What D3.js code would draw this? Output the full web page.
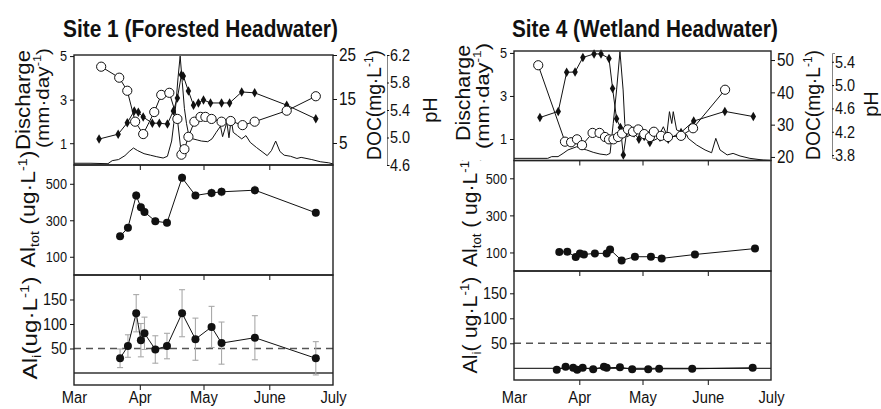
<!DOCTYPE html>
<html>
<head>
<meta charset="utf-8">
<script src="https://cdn.jsdelivr.net/npm/d3@7"></script>
<style>
  body { margin: 0; background: #fff; }
  svg { font-family: "Liberation Sans", Arial, sans-serif; }
</style>
</head>
<body>
<svg id="chart" width="881" height="409"></svg>
<script>
// All sample times are day numbers counted from 1 March.
const monthDays = [0, 31, 61, 92, 122];
const monthLabels = ["Mar", "Apr", "May", "June", "July"];

const dischargeTicks = [1, 3, 5];
const alTotTicks = [100, 300, 500];
const alITicks = [50, 100, 150];
const alIGuide = 50;

// ---- Site 1 (Forested Headwater) ----
const s1QDay = [0, 8, 16, 18, 21, 24, 26, 28, 30, 33, 36, 39, 42, 44, 46, 47, 48, 49, 50, 51, 52, 53, 54, 56, 58, 60, 63, 65, 67, 69, 70, 72, 73, 74, 75, 77, 79, 81, 83, 86, 89, 91, 93, 95, 97, 99, 102, 105, 107, 112, 116, 120, 122];
const s1QVal = [0.08, 0.08, 0.06, 0.2, 0.25, 0.43, 0.62, 0.78, 0.66, 0.52, 0.45, 0.38, 0.32, 0.4, 1.1, 1.9, 2.8, 4.0, 5.0, 3.8, 2.6, 1.9, 1.4, 1.2, 1.15, 1.1, 1.07, 1.2, 1.5, 1.78, 1.3, 1.96, 1.25, 2.1, 1.5, 1.35, 1.2, 1.35, 1.04, 0.8, 0.58, 0.43, 0.66, 1.1, 0.62, 0.45, 0.4, 0.3, 0.35, 0.25, 0.15, 0.1, 0.05];

const s1PhDay = [12.8, 21.3, 25.1, 28.8, 32.6, 37.8, 41.1, 44.9, 48.7, 50.6, 52.0, 53.9, 56.7, 59.6, 61.9, 64.8, 69.5, 73.8, 79.4, 85.1, 100.2, 113.9];
const s1Ph = [6.03, 5.87, 5.68, 5.23, 5.05, 5.37, 5.62, 5.65, 5.27, 4.75, 4.83, 5.01, 5.23, 5.30, 5.30, 5.27, 5.23, 5.24, 5.18, 5.23, 5.39, 5.60];

const s1DocDay = [11.8, 20.8, 25.1, 28.4, 30.3, 32.6, 36.9, 40.2, 44.0, 46.8, 48.7, 50.6, 51.5, 53.9, 56.3, 58.6, 61.0, 64.3, 69.5, 73.3, 79.0, 85.1, 100.2, 113.9];
const s1Doc = [5.9, 7.0, 9.6, 12.3, 12.0, 10.9, 9.5, 9.5, 9.3, 12.3, 15.2, 20.5, 20.2, 16.8, 13.6, 14.1, 14.8, 14.1, 14.1, 14.1, 16.6, 16.4, 13.6, 10.5];

const s1AlDay = [21.7, 25.4, 29.3, 31.5, 33.2, 38.3, 43.8, 50.9, 57.2, 64.8, 69.5, 85.2, 113.9];
const s1AlTot = [212, 259, 436, 371, 346, 295, 286, 533, 436, 450, 456, 465, 341];
const s1AlTotErr = [20, 20, 25, 25, 20, 20, 20, 25, 20, 25, 25, 25, 20];
const s1AlI = [30, 55, 122, 67, 81, 48, 55, 122, 69, 94, 61, 72, 30];
const s1AlIErr = [19, 23, 38, 34, 33, 28, 26, 48, 43, 42, 43, 45, 34];

const s1DocTicks = [5, 15, 25];
const s1PhTicks = [4.6, 5.0, 5.4, 5.8, 6.2];

// ---- Site 4 (Wetland Headwater) ----
const s4QDay = [0, 16, 17.9, 20.9, 23.3, 25.6, 29.8, 31.3, 34.5, 37.6, 40.8, 44, 45.6, 47.1, 48.7, 50.3, 51.8, 52.6, 53.7, 56.5, 59.8, 63, 66.1, 68.5, 70.9, 72.5, 73.8, 74.9, 75.6, 77.2, 78.8, 82, 82.7, 86.7, 90.7, 93.8, 95.8, 97.8, 101.2, 104, 107.3, 112, 118.3, 122];
const s4QVal = [0.1, 0.1, 0.18, 0.18, 0.33, 0.49, 0.64, 0.57, 0.49, 0.38, 0.3, 0.26, 0.33, 1.72, 3.28, 5.06, 3.28, 1.72, 1.1, 1.27, 1.42, 1.26, 1.5, 1.1, 1.57, 1.19, 2.27, 1.72, 2.27, 1.42, 1.35, 1.19, 1.03, 0.72, 0.49, 0.36, 1.03, 0.49, 0.26, 0.33, 0.21, 0.1, 0.02, 0.0];

const s4PhDay = [11.5, 24.2, 27.1, 29.9, 32.3, 37.3, 40.6, 43.2, 45.1, 47.2, 49.4, 51.3, 54.1, 56.5, 59.0, 61.8, 64.5, 66.4, 69.8, 73.1, 79.3, 85.0, 100.2];
const s4Ph = [5.34, 4.03, 4.02, 4.07, 3.97, 4.18, 4.18, 4.11, 4.07, 4.07, 4.11, 4.17, 4.24, 4.20, 4.24, 4.16, 4.11, 4.20, 4.13, 4.11, 4.13, 4.26, 4.92];

const s4DocDay = [12.3, 21.0, 25.0, 29.0, 32.7, 38.0, 41.3, 45.1, 46.8, 48.7, 50.5, 51.9, 53.6, 57.0, 59.3, 61.8, 64.5, 69.3, 73.2, 79.3, 85.3, 100.1, 113.6];
const s4Doc = [32.2, 34.1, 46.2, 46.3, 50.8, 51.9, 51.9, 50.5, 41.2, 31.8, 29.1, 20.6, 28.2, 27.4, 25.5, 26.3, 24.5, 26.1, 25.5, 27.6, 31.1, 34.1, 32.5];

const s4AlTotDay = [21.5, 25.3, 29.3, 31.3, 33.2, 38.4, 44.0, 45.6, 51.1, 57.4, 65.0, 70.1, 85.9, 114.4];
const s4AlTot = [102, 104, 75, 95, 89, 95, 95, 116, 57, 77, 77, 68, 89, 121];
const s4AlTotErr = [10, 10, 10, 10, 10, 10, 10, 10, 10, 10, 10, 10, 10, 12];
const s4AlIDay = [20.3, 24.5, 28.1, 30.0, 32.6, 37.6, 42.7, 44.0, 50.3, 56.1, 63.7, 68.9, 84.6, 113.3];
const s4AlI = [-3, 3, 1, -3, 1, -2, 3, 1, 2, -2, -2, -1, -1, 1];

const s4DocTicks = [20, 30, 40, 50];
const s4PhTicks = [3.8, 4.2, 4.6, 5.0, 5.4];

const svg = d3.select("#chart");
const INK = "#111";
const ERR = "#a9a9a9";

// Mixed text with super/subscripts; optional rotation and stretch to a target length.
function richText(g, parts, o) {
  const size = o.size;
  const t = g.append("text")
    .attr("font-size", size)
    .attr("font-weight", o.weight || "normal")
    .attr("text-anchor", o.anchor || "middle")
    .attr("fill", INK)
    .attr("y", o.centered === false ? 0 : size * 0.35);
  let shift = 0;
  parts.forEach(p => {
    const [s, kind] = typeof p === "string" ? [p, ""] : p;
    const target = kind === "sup" ? -size * 0.38 : kind === "sub" ? size * 0.2 : 0;
    t.append("tspan")
      .attr("font-size", kind ? size * 0.62 : size)
      .attr("dy", target - shift)
      .text(s);
    shift = target;
  });
  let sx = 1;
  if (o.len) sx = o.len / t.node().getBBox().width;
  t.attr("transform", `translate(${o.x},${o.y}) rotate(${o.rot || 0}) scale(${sx},1)`);
  return t;
}

function condense(axisG, f) {
  axisG.selectAll("text").each(function () {
    const w = this.getComputedTextLength();
    d3.select(this).attr("textLength", w * f).attr("lengthAdjust", "spacingAndGlyphs");
  });
}

function styleAxis(a, size) {
  a.selectAll("text").attr("font-size", size).attr("fill", INK).attr("font-family", null);
  a.selectAll("line").attr("stroke", INK);
  a.select(".domain").attr("stroke", INK);
}

function drawSite(c) {
  const g = svg.append("g");
  const [t0, t1, t2, t3] = c.ys;
  const x = d3.scaleLinear().domain([0, 122]).range([c.x0, c.x1]);
  const yQ = d3.scaleLinear().domain(c.qDomain).range([t1, t0]);
  const yDoc = d3.scaleLinear().domain(c.docDomain).range([t1, t0]);
  const yPh = d3.scaleLinear().domain(c.phDomain).range(c.phRange);
  const yTot = d3.scaleLinear().domain(c.totDomain).range([t2, t1]);
  const yAli = d3.scaleLinear().domain(c.aliDomain).range([t3, t2]);

  // Month ticks below each panel
  [t1, t2, t3].forEach(yb => {
    const a = g.append("g").attr("transform", `translate(0,${yb})`)
      .call(d3.axisBottom(x).tickValues(monthDays.slice(1, 4)).tickSize(5).tickFormat(""));
    a.select(".domain").remove();
    styleAxis(a, 16);
  });
  const mAxis = g.append("g").attr("transform", `translate(0,${t3})`)
    .call(d3.axisBottom(x).tickValues(monthDays).tickSize(0).tickPadding(393 - t3 - 1)
      .tickFormat((d, i) => monthLabels[i]));
  mAxis.select(".domain").remove();
  styleAxis(mAxis, 16);
  condense(mAxis, 0.92);

  // --- Top panel: discharge, pH, DOC ---
  g.append("path")
    .datum(d3.zip(c.qDay, c.qVal))
    .attr("d", d3.line().x(d => x(d[0])).y(d => yQ(d[1])))
    .attr("fill", "none").attr("stroke", INK).attr("stroke-width", 1);

  const phPts = d3.zip(c.phDay, c.ph);
  g.append("path").datum(phPts)
    .attr("d", d3.line().x(d => x(d[0])).y(d => yPh(d[1])))
    .attr("fill", "none").attr("stroke", INK).attr("stroke-width", 1);
  const docPts = d3.zip(c.docDay, c.doc);
  g.append("path").datum(docPts)
    .attr("d", d3.line().x(d => x(d[0])).y(d => yDoc(d[1])))
    .attr("fill", "none").attr("stroke", INK).attr("stroke-width", 1);

  g.selectAll(null).data(docPts).join("path")
    .attr("d", d3.symbol(d3.symbolDiamond, 26)())
    .attr("transform", d => `translate(${x(d[0])},${yDoc(d[1])})`)
    .attr("fill", INK);
  g.selectAll(null).data(phPts).join("circle")
    .attr("cx", d => x(d[0])).attr("cy", d => yPh(d[1])).attr("r", 4.6)
    .attr("fill", "#fff").attr("stroke", INK).attr("stroke-width", 1);

  // --- Middle panel: total Al ---
  const totPts = d3.zip(c.totDay, c.tot, c.totErr);
  g.selectAll(null).data(totPts).join("line")
    .attr("x1", d => x(d[0])).attr("x2", d => x(d[0]))
    .attr("y1", d => yTot(d[1] - d[2])).attr("y2", d => yTot(d[1] + d[2]))
    .attr("stroke", ERR).attr("stroke-width", 1.2);
  g.append("path").datum(totPts)
    .attr("d", d3.line().x(d => x(d[0])).y(d => yTot(d[1])))
    .attr("fill", "none").attr("stroke", INK).attr("stroke-width", 1);
  g.selectAll(null).data(totPts).join("circle")
    .attr("cx", d => x(d[0])).attr("cy", d => yTot(d[1])).attr("r", 4)
    .attr("fill", INK);

  // --- Bottom panel: inorganic Al ---
  g.append("line")
    .attr("x1", c.x0).attr("x2", c.x1)
    .attr("y1", yAli(alIGuide)).attr("y2", yAli(alIGuide))
    .attr("stroke", "#555").attr("stroke-width", 1.6).attr("stroke-dasharray", "7,5");
  g.append("line")
    .attr("x1", c.x0).attr("x2", c.x1)
    .attr("y1", yAli(0)).attr("y2", yAli(0))
    .attr("stroke", "#333").attr("stroke-width", 1.3);

  const aliPts = d3.zip(c.aliDay, c.ali, c.aliErr || c.ali.map(() => 0));
  const errPts = aliPts.filter(d => d[2] > 0);
  g.selectAll(null).data(errPts).join("line")
    .attr("x1", d => x(d[0])).attr("x2", d => x(d[0]))
    .attr("y1", d => yAli(d[1] - d[2])).attr("y2", d => yAli(d[1] + d[2]))
    .attr("stroke", ERR).attr("stroke-width", 1.1);
  [-1, 1].forEach(s => {
    g.selectAll(null).data(errPts).join("line")
      .attr("x1", d => x(d[0]) - 3).attr("x2", d => x(d[0]) + 3)
      .attr("y1", d => yAli(d[1] + s * d[2])).attr("y2", d => yAli(d[1] + s * d[2]))
      .attr("stroke", ERR).attr("stroke-width", 1.1);
  });
  g.append("path").datum(aliPts)
    .attr("d", d3.line().x(d => x(d[0])).y(d => yAli(d[1])))
    .attr("fill", "none").attr("stroke", INK).attr("stroke-width", 1);
  g.selectAll(null).data(aliPts).join("circle")
    .attr("cx", d => x(d[0])).attr("cy", d => yAli(d[1])).attr("r", 4)
    .attr("fill", INK);

  // Panel frames
  [[t0, t1], [t1, t2], [t2, t3]].forEach(([a, b]) => {
    g.append("rect").attr("x", c.x0).attr("y", a)
      .attr("width", c.x1 - c.x0).attr("height", b - a)
      .attr("fill", "none").attr("stroke", "#222").attr("stroke-width", 1.4);
  });

  // Left axes
  const leftAxes = [
    [yQ, dischargeTicks, 15],
    [yTot, alTotTicks, 15],
    [yAli, alITicks, 17]
  ];
  leftAxes.forEach(([sc, ticks, fs]) => {
    const a = g.append("g").attr("transform", `translate(${c.x0},0)`)
      .call(d3.axisLeft(sc).tickValues(ticks).tickSize(4).tickPadding(3).tickSizeOuter(0)
        .tickFormat(d3.format("d")));
    a.select(".domain").remove();
    styleAxis(a, fs);
    condense(a, 0.85);
  });

  // Right axes: DOC on the frame, pH as a detached bracket
  const aDoc = g.append("g").attr("transform", `translate(${c.x1},0)`)
    .call(d3.axisRight(yDoc).tickValues(c.docTicks).tickSize(4).tickPadding(2)
      .tickFormat(d3.format("d")));
  aDoc.select(".domain").remove();
  styleAxis(aDoc, 18);
  condense(aDoc, 0.85);

  const aPh = g.append("g").attr("transform", `translate(${c.phX},0)`)
    .call(d3.axisRight(yPh).tickValues(c.phTicks).tickSize(2).tickSizeOuter(3).tickPadding(1)
      .tickFormat(d3.format(".1f")));
  styleAxis(aPh, 17);
  aPh.select(".domain").attr("stroke", "#666").attr("stroke-width", 0.8);
  condense(aPh, 0.85);

  return g;
}

drawSite({
  x0: 74, x1: 333, ys: [55, 165, 275, 385],
  qDomain: [0, 5.05], docDomain: [0, 25], phDomain: [4.6, 6.2], phRange: [165, 55], phX: 387,
  totDomain: [0, 603], aliDomain: [-24.5, 200],
  qDay: s1QDay, qVal: s1QVal,
  phDay: s1PhDay, ph: s1Ph, docDay: s1DocDay, doc: s1Doc,
  totDay: s1AlDay, tot: s1AlTot, totErr: s1AlTotErr,
  aliDay: s1AlDay, ali: s1AlI, aliErr: s1AlIErr,
  docTicks: s1DocTicks, phTicks: s1PhTicks
});

drawSite({
  x0: 514, x1: 771, ys: [51, 160.5, 271, 380],
  qDomain: [0, 5.09], docDomain: [18.9, 52.8], phDomain: [3.75, 5.55], phRange: [158, 53], phX: 832,
  totDomain: [0, 596], aliDomain: [-23.4, 194.6],
  qDay: s4QDay, qVal: s4QVal,
  phDay: s4PhDay, ph: s4Ph, docDay: s4DocDay, doc: s4Doc,
  totDay: s4AlTotDay, tot: s4AlTot, totErr: s4AlTotErr,
  aliDay: s4AlIDay, ali: s4AlI, aliErr: null,
  docTicks: s4DocTicks, phTicks: s4PhTicks
});

// Titles
const titles = svg.append("g");
richText(titles, ["Site 1 (Forested Headwater)"], { x: 63, y: 37, size: 24, weight: "bold", anchor: "start", len: 275, centered: false });
richText(titles, ["Site 4 (Wetland Headwater)"], { x: 512, y: 37, size: 24, weight: "bold", anchor: "start", len: 266, centered: false });

// Axis titles
const lab = svg.append("g");
// Site 1
richText(lab, ["Discharge"], { x: 23, y: 100, size: 21, rot: -90, len: 100 });
richText(lab, ["(mm·day", ["-1", "sup"], ")"], { x: 42, y: 98, size: 19, rot: -90, len: 100 });
richText(lab, ["Al", ["tot", "sub"], " (ug·L", ["-1", "sup"], ")"], { x: 28, y: 209, size: 20, rot: -90, len: 117 });
richText(lab, ["Al", ["i", "sub"], "(ug·L", ["-1", "sup"], ")"], { x: 30, y: 328, size: 20, rot: -90, len: 103 });
richText(lab, ["DOC(mg·L", ["-1", "sup"], ")"], { x: 374, y: 105, size: 20, rot: -90, len: 110 });
richText(lab, ["pH"], { x: 430, y: 110, size: 20, rot: -90 });
// Site 4
richText(lab, ["Discharge"], { x: 463, y: 93, size: 21, rot: -90, len: 96 });
richText(lab, ["(mm·day", ["-1", "sup"], ")"], { x: 482, y: 96, size: 19, rot: -90, len: 106 });
const clipId = "s4tot";
svg.append("clipPath").attr("id", clipId)
  .append("rect").attr("x", 440).attr("y", 160.5).attr("width", 60).attr("height", 120);
const totLab = lab.append("g").attr("clip-path", `url(#${clipId})`);
richText(totLab, ["Al", ["tot", "sub"], " ( ug·L", ["-1", "sup"], ")"], { x: 470, y: 210.5, size: 20, rot: -90, len: 113 });
richText(lab, ["Al", ["i", "sub"], "( ug·L", ["-1", "sup"], ")"], { x: 470, y: 325, size: 20, rot: -90, len: 97 });
richText(lab, ["DOC(mg·L", ["-1", "sup"], ")"], { x: 813, y: 105, size: 20, rot: -90, len: 110 });
richText(lab, ["pH"], { x: 871, y: 104, size: 20, rot: -90 });
</script>
</body>
</html>
